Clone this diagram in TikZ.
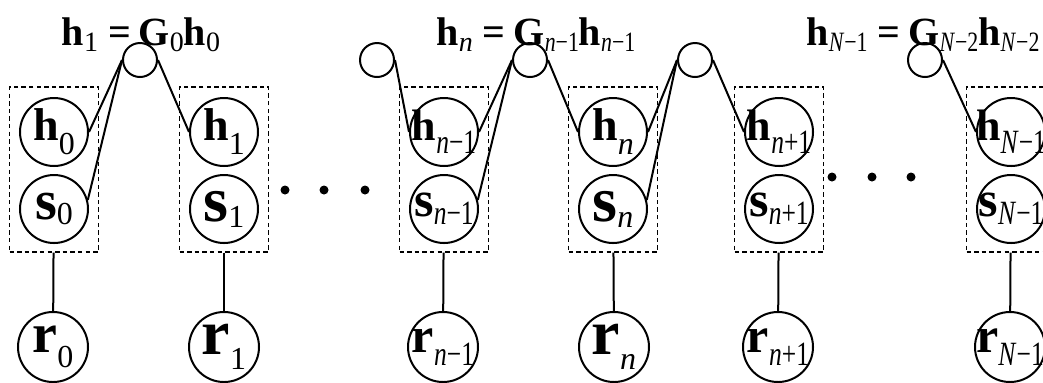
\documentclass[tikz,border=0pt]{standalone}
\usepackage{fontspec}
\setmainfont{Liberation Serif}
\usepackage{graphicx}
\usepackage{tikz}
\usetikzlibrary{positioning}
\newcommand{\fs}[1]{\fontsize{#1}{#1}\selectfont}
% lowered indices: one sign, several signs, in a label
\newcommand{\lowsub}[2][-7pt]{\raisebox{#1}{\fs{16}#2}}
\newcommand{\longsub}[2][-6.5pt]{\raisebox{#1}{\fs{17}\scalebox{0.75}[1]{#2}}}
\newcommand{\eqsub}[1]{\raisebox{-3pt}{\fs{14}#1}}
\newcommand{\eqlong}[1]{\raisebox{-3pt}{\fs{14}\scalebox{0.78}[1]{#1}}}
\newcommand{\eqsign}{\hspace{5pt}\textbf{=}\hspace{4pt}}
% text centred in a fixed circle
\newcommand{\inner}[1]{\makebox[0pt]{#1}}

\begin{document}
\begin{tikzpicture}[x=0.5pt, y=-0.5pt,
  var/.style={circle, draw, line width=1pt, minimum size=34pt, inner sep=0pt,
              font=\fs{23}},
  obs/.style={var, minimum size=35pt, font=\fs{28}},
  gate/.style={circle, draw, line width=1pt, minimum size=17pt, inner sep=0pt},
  slice/.style={draw, dash pattern=on 2.2pt off 1.6pt, line width=0.65pt,
                minimum width=44.5pt, minimum height=82.5pt, inner sep=0pt},
  link/.style={line width=1pt},
  dot/.style={circle, fill, inner sep=0pt, minimum size=4.5pt},
  eq/.style={font=\fs{20}, anchor=base, inner sep=0pt}
]
  \useasboundingbox (0,0) rectangle (1043,382);

  % dashed time slices
  \node[slice] (b0) at (54,  169.5) {};
  \node[slice] (b1) at (224, 169.5) {};
  \node[slice] (bm) at (444, 169.5) {};
  \node[slice] (bn) at (613, 169.5) {};
  \node[slice] (bp) at (779, 169.5) {};
  \node[slice] (bN) at (1011,169.5) {};

  % hidden states
  \node[var] (h0) at (54,  132) {\inner{\textbf{h}\lowsub{0}}};
  \node[var] (h1) at (224, 132) {\inner{\textbf{h}\lowsub{1}}};
  \node[var, font=\fs{22}] (hm) at (444, 132) {\inner{\textbf{h}\longsub{\textit{n}−1}}};
  \node[var] (hn) at (613, 132) {\inner{\textbf{h}\lowsub{\textit{n}}}};
  \node[var, font=\fs{22}] (hp) at (779, 132) {\inner{\textbf{h}\longsub{\textit{n}+1}}};
  \node[var, font=\fs{22}] (hN) at (1011,132) {\inner{\textbf{h}\longsub{\textit{N}−1}}};

  \node[var, font=\fs{28}] (s0) at (54,  209) {\inner{\textbf{s}\lowsub[-2.5pt]{0}}};
  \node[var, font=\fs{32}] (s1) at (224, 209) {\inner{\textbf{s}\lowsub[-3pt]{1}}};
  \node[var, font=\fs{25}] (sm) at (444, 209) {\inner{\textbf{s}\longsub[-4pt]{\textit{n}−1}}};
  \node[var, font=\fs{32}] (sn) at (613, 209) {\inner{\textbf{s}\lowsub[-3pt]{\textit{n}}}};
  \node[var, font=\fs{25}] (sp) at (779, 209) {\inner{\textbf{s}\longsub[-4pt]{\textit{n}+1}}};
  \node[var, font=\fs{25}] (sN) at (1011,209) {\inner{\textbf{s}\longsub[-4pt]{\textit{N}−1}}};

  % observations
  \node[obs] (r0) at (53,  347) {\inner{\textbf{r}\lowsub[-7.5pt]{0}}};
  \node[obs, font=\fs{32}] (r1) at (224, 347) {\inner{\textbf{r}\lowsub[-7.5pt]{1}}};
  \node[obs, font=\fs{25}] (rm) at (443, 347) {\inner{\textbf{r}\longsub{\textit{n}−1}}};
  \node[obs, font=\fs{32}] (rn) at (614, 347) {\inner{\textbf{r}\lowsub[-7.5pt]{\textit{n}}}};
  \node[obs, font=\fs{25}] (rp) at (778, 347) {\inner{\textbf{r}\longsub{\textit{n}+1}}};
  \node[obs, font=\fs{25}] (rN) at (1010,347) {\inner{\textbf{r}\longsub{\textit{N}−1}}};

  % transition factors
  \node[gate] (g0) at (140, 60) {};
  \node[gate] (gl) at (377, 60) {};
  \node[gate] (gm) at (530, 60) {};
  \node[gate] (gr) at (695, 60) {};
  \node[gate] (gN) at (925, 60) {};

  \node[eq] (e0) at (141, 45) {\textbf{h}\eqsub{1}\eqsign\textbf{G}\eqsub{0}\textbf{h}\eqsub{0}};
  \node[eq] (en) at (536, 45) {\textbf{h}\eqsub{\textit{n}}\eqsign\textbf{G}\eqlong{\textit{n}−1}\textbf{h}\eqlong{\textit{n}−1}};
  \node[eq] (eN) at (923, 45) {\textbf{h}\eqlong{\textit{N}−1}\eqsign\textbf{G}\eqlong{\textit{N}−2}\textbf{h}\eqlong{\textit{N}−2}};

  \draw[link] (g0.west) -- (h0.east);
  \draw[link] (g0.west) -- (s0.15);
  \draw[link] (g0.east) -- (h1.west);
  \draw[link] (gl.east) -- (hm.west);
  \draw[link] (gm.west) -- (hm.east);
  \draw[link] (gm.west) -- (sm.15);
  \draw[link] (gm.east) -- (hn.west);
  \draw[link] (gr.west) -- (hn.east);
  \draw[link] (gr.west) -- (sn.15);
  \draw[link] (gr.east) -- (hp.west);
  \draw[link] (gN.east) -- (hN.west);

  \draw[link] (b0) -- (r0);
  \draw[link] (b1) -- (r1);
  \draw[link] (bm) -- (rm);
  \draw[link] (bn) -- (rn);
  \draw[link] (bp) -- (rp);
  \draw[link] (bN) -- (rN);

  % ellipses
  \node[dot] (d1) at (285, 190) {};
  \node[dot] (d2) at (324, 190) {};
  \node[dot] (d3) at (365, 190) {};
  \node[dot] (d4) at (832, 177) {};
  \node[dot] (d5) at (872, 177) {};
  \node[dot] (d6) at (911, 177) {};
\end{tikzpicture}
\end{document}
